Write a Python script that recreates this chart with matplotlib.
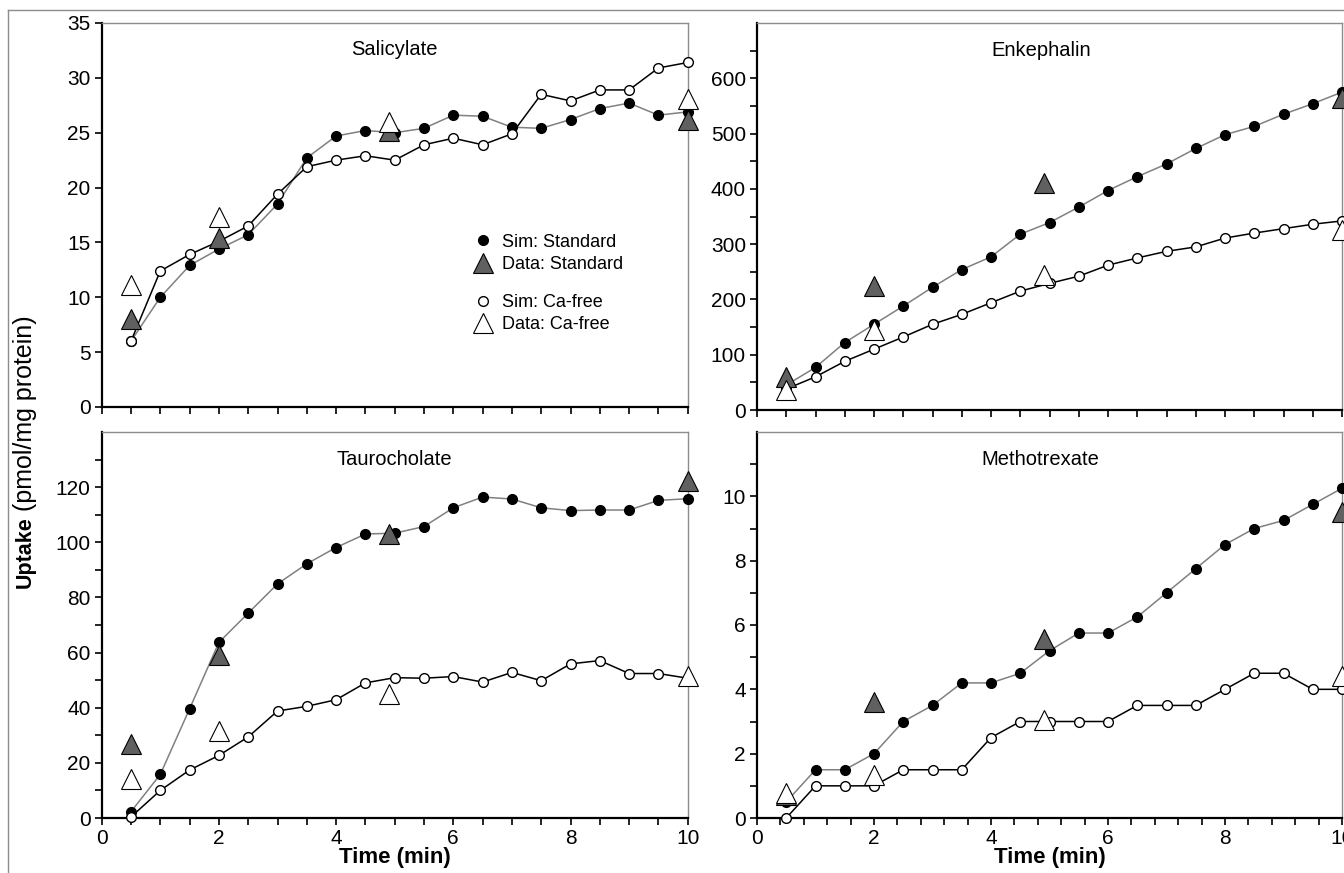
import numpy as np
import matplotlib
matplotlib.use('Agg')
import matplotlib.pyplot as plt
from matplotlib.lines import Line2D
from matplotlib.ticker import MultipleLocator

plt.rcParams['font.family'] = ['Liberation Sans', 'DejaVu Sans']

# time points
t_sim = [0.5, 1, 1.5, 2, 2.5, 3, 3.5, 4, 4.5, 5, 5.5, 6, 6.5, 7, 7.5, 8, 8.5, 9, 9.5, 10]
t_data = [0.5, 2, 4.9, 10]

# Salicylate
sal_sim_std = [6.0, 10.0, 12.9, 14.4, 15.7, 18.5, 22.7, 24.7, 25.2, 25.0,
               25.4, 26.6, 26.5, 25.5, 25.4, 26.2, 27.2, 27.7, 26.6, 26.9]
sal_sim_ca = [6.0, 12.4, 13.9, 15.1, 16.5, 19.4, 21.9, 22.5, 22.9, 22.5,
              23.9, 24.5, 23.9, 24.9, 28.5, 27.9, 28.9, 28.9, 30.9, 31.4]
sal_dat_std = [8.0, 15.4, 25.2, 26.2]
sal_dat_ca = [11.1, 17.3, 26.0, 28.1]

# Enkephalin
enk_sim_std = [45, 77, 122, 155, 188, 222, 254, 277, 318, 339,
               367, 397, 422, 445, 473, 498, 513, 535, 554, 575]
enk_sim_ca = [38, 60, 88, 110, 132, 155, 173, 194, 215, 229,
              242, 262, 275, 287, 295, 311, 320, 328, 336, 342]
enk_dat_std = [59, 224, 411, 564]
enk_dat_ca = [36, 144, 245, 325]

# Taurocholate
tau_sim_std = [2.3, 15.8, 39.6, 63.7, 74.3, 84.9, 92.2, 98.1, 103.0, 103.3,
               105.7, 112.5, 116.4, 115.7, 112.5, 111.5, 111.7, 111.7, 115.2, 115.8]
tau_sim_ca = [0.4, 10.0, 17.4, 22.7, 29.4, 38.8, 40.5, 42.9, 49.0, 50.9,
              50.7, 51.3, 49.3, 52.8, 49.8, 55.9, 57.1, 52.4, 52.4, 50.7]
tau_dat_std = [26.7, 59.1, 103.0, 122.2]
tau_dat_ca = [14.2, 31.7, 44.9, 51.6]

# Methotrexate
met_sim_std = [0.5, 1.5, 1.5, 2.0, 3.0, 3.5, 4.2, 4.2, 4.5, 5.2,
               5.75, 5.75, 6.25, 7.0, 7.75, 8.5, 9.0, 9.25, 9.75, 10.25]
met_sim_ca = [0.0, 1.0, 1.0, 1.0, 1.5, 1.5, 1.5, 2.5, 3.0, 3.0,
              3.0, 3.0, 3.5, 3.5, 3.5, 4.0, 4.5, 4.5, 4.0, 4.0]
met_dat_std = [0.7, 3.6, 5.56, 9.5]
met_dat_ca = [0.78, 1.33, 3.04, 4.4]

W, H = 1344, 873
fig = plt.figure(figsize=(W / 100, H / 100), dpi=100)

# frame lines around the figure (top and left)
fig.add_artist(Line2D([8 / W, 1], [1 - 10 / H, 1 - 10 / H], color='#8c8c8c', lw=1))
fig.add_artist(Line2D([8 / W, 8 / W], [0, 1 - 10 / H], color='#8c8c8c', lw=1))


def px_axes(x0, y0, x1, y1):
    return fig.add_axes([x0 / W, 1 - y1 / H, (x1 - x0) / W, (y1 - y0) / H])


gray_tri = '#606060'
circ_ms = 7
tri_ms = 14


def draw_panel(ax, title, sim_std, sim_ca, dat_std, dat_ca, title_x=0.5):
    ax.plot(t_sim, sim_std, color='#808080', lw=1.1, marker='o', ms=circ_ms,
            mfc='black', mec='black', zorder=3, clip_on=False)
    ax.plot(t_sim, sim_ca, color='black', lw=1.1, marker='o', ms=circ_ms,
            mfc='white', mec='black', mew=1.0, zorder=3, clip_on=False)
    ax.plot(t_data, dat_std, ls='none', marker='^', ms=tri_ms, mfc=gray_tri,
            mec='black', mew=0.8, zorder=4, clip_on=False)
    ax.plot(t_data, dat_ca, ls='none', marker='^', ms=tri_ms, mfc='white',
            mec='black', mew=0.8, zorder=5, clip_on=False)
    ax.set_xlim(0, 10)
    ax.text(title_x, 0.93, title, transform=ax.transAxes, ha='center',
            va='center', fontsize=14.5)
    for s in ['left', 'bottom']:
        ax.spines[s].set_color('black')
        ax.spines[s].set_linewidth(1.6)
    for s in ['top', 'right']:
        ax.spines[s].set_color('#8c8c8c')
        ax.spines[s].set_linewidth(1.0)
    ax.tick_params(axis='both', which='both', direction='out', length=5,
                   width=1.2, labelsize=15, pad=3)


ax1 = px_axes(101.7, 23, 687.7, 407)
ax2 = px_axes(757, 23, 1342, 410)
ax3 = px_axes(101.7, 432, 687.7, 818)
ax4 = px_axes(757, 432, 1342, 818)

draw_panel(ax1, 'Salicylate', sal_sim_std, sal_sim_ca, sal_dat_std, sal_dat_ca)
draw_panel(ax2, 'Enkephalin', enk_sim_std, enk_sim_ca, enk_dat_std, enk_dat_ca, 0.485)
draw_panel(ax3, 'Taurocholate', tau_sim_std, tau_sim_ca, tau_dat_std, tau_dat_ca)
draw_panel(ax4, 'Methotrexate', met_sim_std, met_sim_ca, met_dat_std, met_dat_ca, 0.485)

# y scales
ax1.set_ylim(0, 35)
ax1.set_yticks(np.arange(0, 36, 5))

ax2.set_ylim(0, 700)
ax2.set_yticks(np.arange(0, 700, 100))
ax2.set_yticks(np.arange(50, 700, 100), minor=True)

ax3.set_ylim(0, 140)
ax3.set_yticks(np.arange(0, 130, 20))
ax3.set_yticks(np.arange(10, 150, 20), minor=True)

ax4.set_ylim(0, 12)
ax4.set_yticks(np.arange(0, 11, 2))
ax4.set_yticks(np.arange(1, 13, 2), minor=True)

# x scales
for ax in (ax1, ax2, ax3):
    ax.set_xticks(np.arange(0, 11, 2))
    ax.xaxis.set_minor_locator(MultipleLocator(0.5))
ax4.set_xticks(np.arange(0, 11, 2))
ax4.xaxis.set_minor_locator(MultipleLocator(0.4))
for ax in (ax1, ax2):
    ax.tick_params(axis='x', labelbottom=False)
for ax in (ax3, ax4):
    ax.set_xlabel('Time (min)', fontsize=16, fontweight='bold', labelpad=-1)

# legend inside Salicylate panel
h_sim_std = Line2D([], [], ls='none', marker='o', ms=circ_ms, mfc='black', mec='black')
h_dat_std = Line2D([], [], ls='none', marker='^', ms=tri_ms, mfc=gray_tri, mec='black', mew=0.8)
h_sim_ca = Line2D([], [], ls='none', marker='o', ms=circ_ms, mfc='white', mec='black')
h_dat_ca = Line2D([], [], ls='none', marker='^', ms=tri_ms, mfc='white', mec='black', mew=0.8)
leg_kw = dict(loc='upper left', frameon=False, fontsize=13, handlelength=1.0,
              handletextpad=0.55, labelspacing=0.3, borderpad=0)
leg1 = ax1.legend([h_sim_std, h_dat_std], ['Sim: Standard', 'Data: Standard'],
                  bbox_to_anchor=(0.62, 0.475), **leg_kw)
ax1.add_artist(leg1)
ax1.legend([h_sim_ca, h_dat_ca], ['Sim: Ca-free', 'Data: Ca-free'],
           bbox_to_anchor=(0.62, 0.318), **leg_kw)

# y-axis label: bold "Uptake" + regular rest
fig.canvas.draw()
ylab_x = 25 / W
t1 = fig.text(ylab_x, 1 - 588 / H, 'Uptake', rotation=90, ha='center',
              va='bottom', fontsize=15.5, fontweight='bold')
bb = t1.get_window_extent(fig.canvas.get_renderer())
fig.text(ylab_x, (bb.y1 + 5) / H, '(pmol/mg protein)', rotation=90,
         ha='center', va='bottom', fontsize=18)

fig.savefig('out.png', dpi=100)
